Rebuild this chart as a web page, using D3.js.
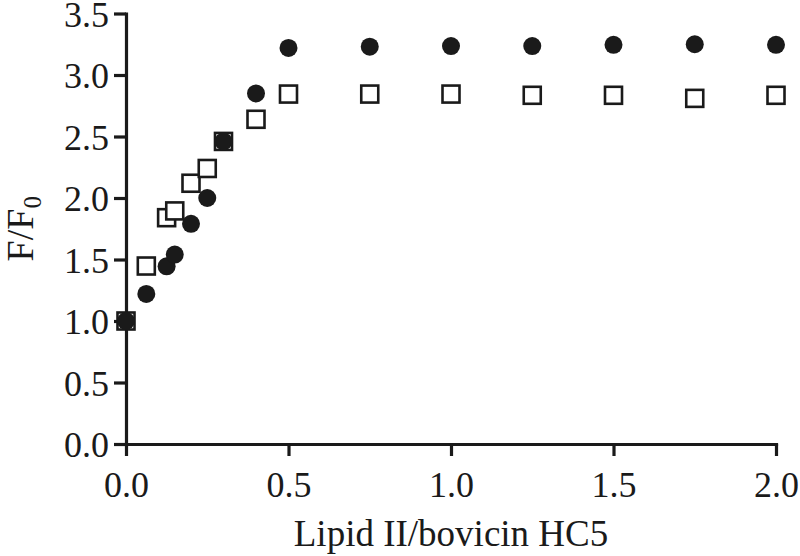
<!DOCTYPE html>
<html>
<head>
<meta charset="utf-8">
<script src="https://cdn.jsdelivr.net/npm/d3@7"></script>
<style>
  body { margin: 0; background: #fff; }
  svg { display: block; }
  text { font-family: "Liberation Serif", "Times New Roman", Times, serif; }
</style>
</head>
<body>
<svg id="chart" width="800" height="556"></svg>
<script>
// Data
const xCircles = [0, 0.0625, 0.125, 0.15, 0.2, 0.25, 0.3, 0.4, 0.5, 0.75, 1.0, 1.25, 1.5, 1.75, 2.0];
const yCircles = [1.0, 1.22, 1.445, 1.54, 1.79, 2.0, 2.46, 2.85, 3.22, 3.23, 3.235, 3.235, 3.245, 3.25, 3.245];
const xSquares = [0, 0.0625, 0.125, 0.15, 0.2, 0.25, 0.3, 0.4, 0.5, 0.75, 1.0, 1.25, 1.5, 1.75, 2.0];
const ySquares = [1.0, 1.447, 1.84, 1.895, 2.12, 2.24, 2.46, 2.64, 2.845, 2.845, 2.845, 2.835, 2.835, 2.81, 2.835];
const xTicks = [0, 0.5, 1.0, 1.5, 2.0];
const yTicks = [0, 0.5, 1.0, 1.5, 2.0, 2.5, 3.0, 3.5];
const xTitle = "Lipid II/bovicin HC5";

const svg = d3.select("#chart");
const ink = "#1a1a1a";
const font = '"Liberation Serif", "Times New Roman", Times, serif';

const x = d3.scaleLinear().domain([0, 2]).range([126, 776]);
const y = d3.scaleLinear().domain([0, 3.5]).range([444, 13.5]);

// Y axis
const gy = svg.append("g")
  .attr("transform", `translate(${x(0)},0)`)
  .call(d3.axisLeft(y).tickValues(yTicks).tickSize(12).tickSizeOuter(0).tickPadding(5).tickFormat(d3.format(".1f")));

// X axis
const gx = svg.append("g")
  .attr("transform", `translate(0,${y(0)})`)
  .call(d3.axisBottom(x).tickValues(xTicks).tickSize(12).tickSizeOuter(0).tickPadding(15).tickFormat(d3.format(".1f")));

[gx, gy].forEach(g => {
  g.attr("font-family", font);
  g.select(".domain").attr("stroke", ink).attr("stroke-width", 3.2).attr("stroke-linecap", "square");
  g.selectAll(".tick line").attr("stroke", ink).attr("stroke-width", 3.2);
  g.selectAll(".tick text").attr("fill", ink).attr("font-family", font).style("font-size", "36px");
});
gy.selectAll(".tick text").attr("dy", "0.35em");
gx.selectAll(".tick text").attr("dy", "0.71em");

// Squares (drawn first)
const side = 17;
svg.append("g").selectAll("rect")
  .data(d3.zip(xSquares, ySquares))
  .join("rect")
  .attr("x", d => x(d[0]) - side / 2)
  .attr("y", d => y(d[1]) - side / 2)
  .attr("width", side)
  .attr("height", side)
  .attr("fill", "#fff")
  .attr("stroke", ink)
  .attr("stroke-width", 2.6);

// Circles
svg.append("g").selectAll("circle")
  .data(d3.zip(xCircles, yCircles))
  .join("circle")
  .attr("cx", d => x(d[0]))
  .attr("cy", d => y(d[1]))
  .attr("r", 9)
  .attr("fill", ink);

// X title
svg.append("text")
  .attr("x", (x(0) + x(2)) / 2)
  .attr("y", 546)
  .attr("text-anchor", "middle")
  .attr("fill", ink)
  .attr("font-family", font)
  .style("font-size", "37px")
  .text(xTitle);

// Y title F/F0
const yt = svg.append("text")
  .attr("transform", `translate(33,${(y(0) + y(3.5)) / 2}) rotate(-90)`)
  .attr("text-anchor", "middle")
  .attr("fill", ink)
  .attr("font-family", font)
  .style("font-size", "38px");
yt.append("tspan").text("F/F");
yt.append("tspan").attr("dy", 8).style("font-size", "25px").text("0");
</script>
</body>
</html>
